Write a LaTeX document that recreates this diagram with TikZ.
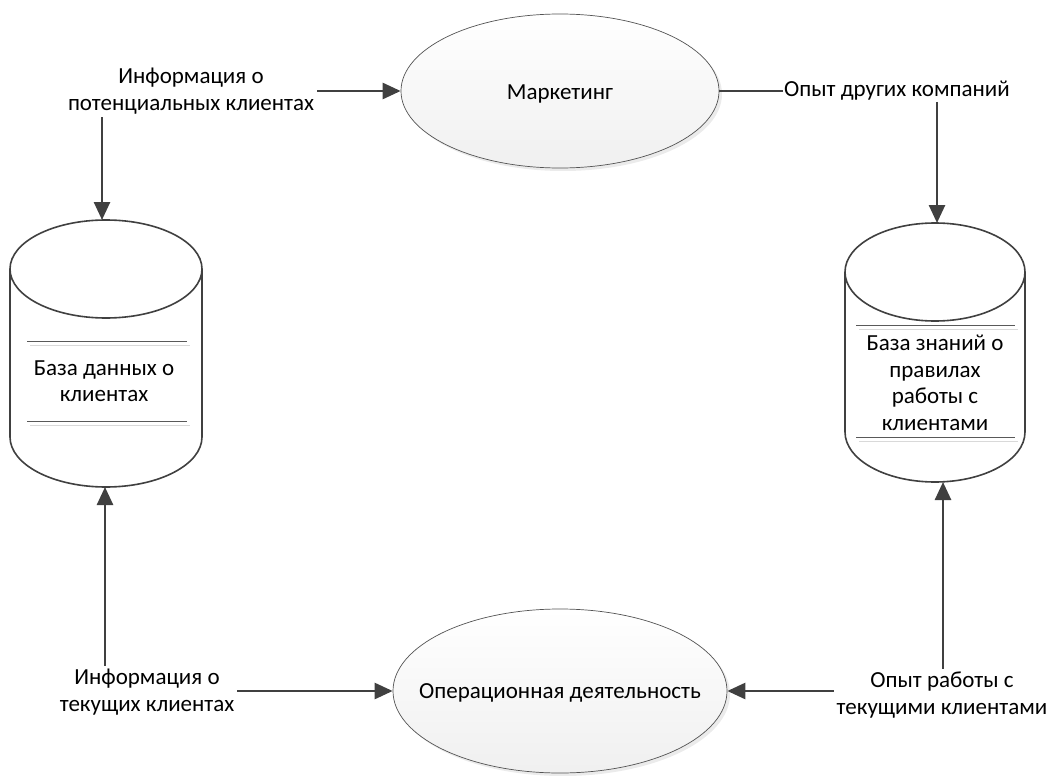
\documentclass[tikz,border=0pt]{standalone}
\usepackage{fontspec}
\setmainfont{Carlito}
\usetikzlibrary{arrows.meta,shapes.geometric,shadows}
\definecolor{ln}{HTML}{404040}
\begin{document}
\begin{tikzpicture}[x=1pt,y=-1pt,
  every node/.style={font=\fontsize{23}{26.5}\selectfont, text=black},
  lbl/.style={align=center, inner sep=3pt},
  proc/.style={ellipse, draw=ln!90, line width=0.7pt, top color=white, bottom color=black!6, inner sep=0pt,
    drop shadow={shadow xshift=3pt, shadow yshift=-3pt, opacity=0.2, fill=black!40}},
  arr/.style={draw=ln, line width=2.6pt, -{Triangle[length=18pt,width=16pt]}},
  plain/.style={draw=ln, line width=2.6pt},
  cyl/.style={draw=ln, line width=1.6pt, fill=white},
  sep/.style={draw=black!65, line width=0.9pt},
  sepl/.style={draw=black!15, line width=0.9pt}]
\useasboundingbox (0,0) rectangle (1050,776);

% processes
\node[proc, minimum width=318, minimum height=154, label={[name=mkt, yshift=-3pt]center:Маркетинг}] (mk) at (560,91) {};
\node[proc, minimum width=334, minimum height=164, label={[name=opt, yshift=-2pt]center:Операционная деятельность}] (op) at (560,691) {};

% left cylinder
\draw[cyl] (10,269) -- (10,437) arc[start angle=180, end angle=0, x radius=96, y radius=50] -- (202,269);
\draw[cyl] (106,269) ellipse [x radius=96, y radius=49];
\draw[sep] (27,341) -- (187,341);
\draw[sepl] (30,345) -- (190,345);
\draw[sep] (27,421) -- (187,421);
\draw[sepl] (30,425) -- (190,425);
\node[lbl] (db) at (104,381) {База данных о\\клиентах};
\coordinate (dbT) at (102,220);
\coordinate (dbB) at (105,487);

% right cylinder
\draw[cyl] (845,272) -- (845,432) arc[start angle=180, end angle=0, x radius=90, y radius=50] -- (1025,272);
\draw[cyl] (935,272) ellipse [x radius=90, y radius=49];
\draw[sep] (856,325) -- (1015,325);
\draw[sepl] (859,329) -- (1018,329);
\draw[sep] (856,437) -- (1015,437);
\draw[sepl] (859,441) -- (1018,441);
\node[lbl] (kb) at (935,383) {База знаний о\\правилах\\работы с\\клиентами};
\coordinate (kbT) at (937,223);
\coordinate (kbB) at (943,482);

% labels
\node[lbl] (l1) at (191,91) {Информация о\\потенциальных клиентах};
\node[lbl, anchor=west, inner sep=1pt] (l2) at (783,91) {Опыт других компаний};
\node[lbl] (l3) at (147,692) {Информация о\\текущих клиентах};
\node[lbl] (l4) at (942,695) {Опыт работы с\\текущими клиентами};

% connectors
\draw[arr] (l1.east |- mk.west) -- (mk.west);
\draw[arr] (l1.south -| dbT) -- (dbT);
\draw[plain] (mk.east) -- (l2.west);
\draw[arr] (l2.south -| kbT) -- (kbT);
\draw[arr] (l3.north -| dbB) -- (dbB);
\draw[arr] (l3.east |- op.west) -- (op.west);
\draw[arr] (l4.north -| kbB) -- (kbB);
\draw[arr] (l4.west |- op.east) -- (op.east);
\end{tikzpicture}
\end{document}
